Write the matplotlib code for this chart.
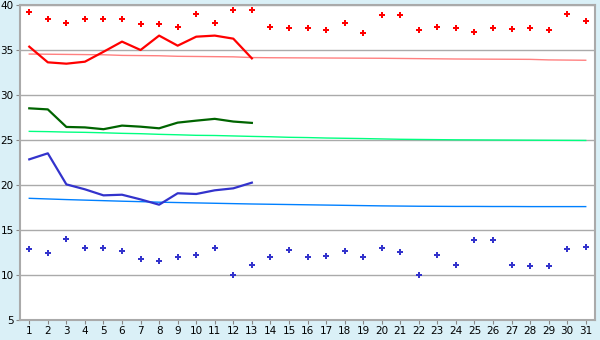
import matplotlib.pyplot as plt

days = list(range(1, 32))
tick_labels = [str(d) for d in days]

# Daily records (markers)
record_high = [39.2, 38.4, 38.0, 38.5, 38.5, 38.4, 37.85, 37.85, 37.6, 39.0,
               38.0, 39.5, 39.5, 37.6, 37.5, 37.5, 37.2, 38.0, 36.85, 38.85,
               38.85, 37.2, 37.6, 37.5, 36.95, 37.5, 37.3, 37.4, 37.2, 39.0, 38.2]
record_low = [12.85, 12.5, 13.97, 12.97, 12.97, 12.63, 11.74, 11.52, 11.97, 12.2,
              12.97, 10.0, 11.08, 11.97, 12.74, 11.97, 12.08, 12.63, 11.97, 12.97,
              12.52, 10.0, 12.2, 11.08, 13.85, 13.85, 11.08, 10.97, 10.97, 12.85, 13.08]

# This month so far (13 days)
cur_days = list(range(1, 14))
cur_high = [35.37, 33.63, 33.48, 33.7, 34.8, 35.93, 35.0, 36.6, 35.48, 36.48,
            36.6, 36.26, 34.07]
cur_mean = [28.52, 28.4, 26.45, 26.4, 26.2, 26.6, 26.48, 26.3, 26.93, 27.15,
            27.35, 27.05, 26.9]
cur_low = [22.85, 23.52, 20.07, 19.52, 18.85, 18.92, 18.4, 17.81, 19.08, 19.0,
           19.41, 19.63, 20.26]

# Normals
norm_high = [34.55, 34.53, 34.51, 34.49, 34.47, 34.40, 34.38, 34.36, 34.30, 34.28,
             34.26, 34.24, 34.16, 34.14, 34.13, 34.12, 34.11, 34.10, 34.09, 34.08,
             34.06, 34.04, 34.02, 34.00, 33.99, 33.98, 33.97, 33.96, 33.90, 33.88, 33.86]
norm_mean = [25.96, 25.93, 25.88, 25.85, 25.80, 25.74, 25.70, 25.63, 25.58, 25.52,
             25.50, 25.45, 25.40, 25.36, 25.30, 25.27, 25.22, 25.19, 25.16, 25.12,
             25.08, 25.06, 25.04, 25.02, 25.01, 25.00, 24.99, 24.98, 24.97, 24.96, 24.95]
norm_low = [18.52, 18.45, 18.38, 18.32, 18.26, 18.20, 18.15, 18.09, 18.05, 18.01,
            17.97, 17.93, 17.89, 17.86, 17.83, 17.80, 17.77, 17.74, 17.71, 17.68,
            17.66, 17.64, 17.63, 17.62, 17.62, 17.61, 17.61, 17.60, 17.60, 17.60, 17.60]

bg = '#daf0f7'
fig = plt.figure(figsize=(6, 3.4), dpi=100, facecolor=bg)
ax = fig.add_axes([20 / 600, 20 / 340, 575 / 600, 315 / 340])
ax.set_facecolor('white')

ax.plot(days, norm_high, color='#ff8080', lw=1)
ax.plot(days, norm_mean, color='#00ff80', lw=1)
ax.plot(days, norm_low, color='#0080ff', lw=1)

ax.plot(cur_days, cur_high, color='#ff0000', lw=1.6)
ax.plot(cur_days, cur_mean, color='#006400', lw=1.6)
ax.plot(cur_days, cur_low, color='#3333cc', lw=1.6)

ax.plot(days, record_high, 'P', color='#ff0000', ms=4.8, mew=0)
ax.plot(days, record_low, 'P', color='#3333cc', ms=4.8, mew=0)

ax.set_xlim(0.5, 31.5)
ax.set_ylim(5, 40)
ax.set_xticks(days)
ax.set_xticklabels(tick_labels)
ax.set_yticks(range(5, 41, 5))
ax.yaxis.grid(True, color='#aaaaaa', lw=1)
ax.set_axisbelow(True)

for side in ax.spines.values():
    side.set_color('#aaaaaa')
    side.set_linewidth(1.5)
ax.tick_params(direction='out', color='#888888', length=3, labelsize=7.5,
               labelcolor='black', pad=1.5)

fig.savefig('out.png', dpi=100, facecolor=bg)
